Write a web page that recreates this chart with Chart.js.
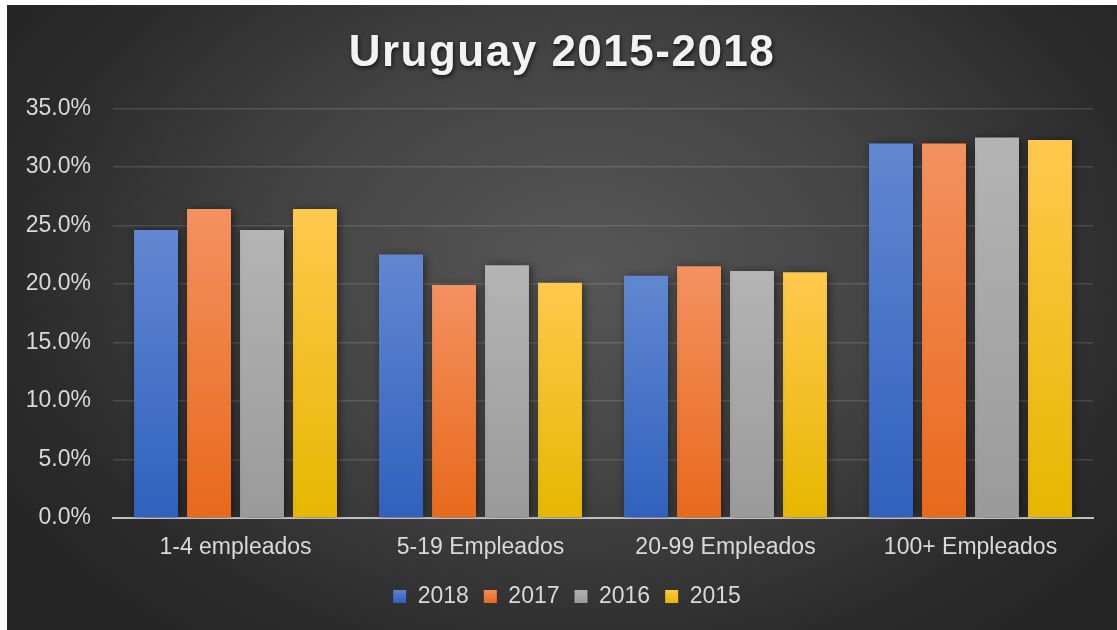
<!DOCTYPE html>
<html><head><meta charset="utf-8">
<script src="https://cdn.jsdelivr.net/npm/chart.js@4.4.1/dist/chart.umd.min.js"></script>
<style>
html,body{margin:0;padding:0;background:#fff;width:1117px;height:630px;overflow:hidden;}
#box{position:absolute;left:7px;top:5px;width:1110px;height:625px;
background:radial-gradient(ellipse 60% 75% at 52% 42%, #575757 0%, #444 45%, #2b2b2b 85%, #262626 100%);}
canvas{display:block;}
</style></head><body>
<div id="box"><canvas id="c" width="1110" height="625"></canvas></div>
<script>
const categories = ["1-4 empleados", "5-19 Empleados", "20-99 Empleados", "100+ Empleados"];
const seriesNames = ["2018", "2017", "2016", "2015"];
const v2018 = [24.6, 22.5, 20.7, 32.0];
const v2017 = [26.4, 19.9, 21.5, 32.0];
const v2016 = [24.6, 21.6, 21.1, 32.5];
const v2015 = [26.4, 20.1, 21.0, 32.3];
const yTicks = [0, 5, 10, 15, 20, 25, 30, 35];

const palette = [
  ["#6287d1", "#2f61bd"],
  ["#f49160", "#e8691b"],
  ["#b4b4b4", "#9a9a9a"],
  ["#ffc94d", "#e6b700"]
];
const FONT = "'Liberation Sans', Arial, sans-serif";
const TEXT = '#d9d9d9';

function barFill(i) {
  return function(ctx) {
    const chart = ctx.chart;
    if (!chart.chartArea || ctx.raw === undefined) return palette[i][0];
    const ys = chart.scales.y;
    const top = ys.getPixelForValue(ctx.raw);
    const bot = ys.getPixelForValue(0);
    const g = chart.ctx.createLinearGradient(0, top, 0, bot);
    g.addColorStop(0, palette[i][0]);
    g.addColorStop(1, palette[i][1]);
    return g;
  };
}

const shadowPlugin = {
  id: 'barShadow',
  beforeDatasetsDraw(chart) {
    const c = chart.ctx; c.save();
    c.shadowColor = 'rgba(0,0,0,0.55)'; c.shadowBlur = 9; c.shadowOffsetX = 2; c.shadowOffsetY = 1;
  },
  afterDatasetsDraw(chart) { chart.ctx.restore(); }
};

const allVals = [v2018, v2017, v2016, v2015];
const chart = new Chart(document.getElementById('c'), {
  type: 'bar',
  data: {
    labels: categories,
    datasets: seriesNames.map((n, i) => ({
      label: n,
      data: allVals[i],
      backgroundColor: barFill(i),
      borderWidth: 0,
      barPercentage: 0.83,
      categoryPercentage: 0.865
    }))
  },
  plugins: [shadowPlugin],
  options: {
    responsive: false,
    animation: false,
    layout: { padding: { left: 0, right: 24, top: 0, bottom: 12 } },
    plugins: {
      title: {
        display: true,
        text: 'Uruguay 2015-2018',
        color: '#f2f2f2',
        font: { family: FONT, size: 44, weight: 'bold' },
        padding: { top: 22, bottom: 28.5 }
      },
      legend: {
        position: 'bottom',
        labels: {
          color: TEXT,
          font: { family: FONT, size: 23 },
          boxWidth: 13, boxHeight: 13,
          padding: 15,
          generateLabels(chart) {
            return seriesNames.map((n, i) => ({
              text: n, fontColor: TEXT, fillStyle: (function(){
                const g = chart.ctx.createLinearGradient(0, 583, 0, 598);
                g.addColorStop(0, palette[i][0]); g.addColorStop(1, palette[i][1]); return g;})(),
              strokeStyle: 'rgba(0,0,0,0)', lineWidth: 0, hidden: false, datasetIndex: i
            }));
          }
        }
      },
      tooltip: { enabled: false }
    },
    scales: {
      x: {
        grid: { display: false, drawTicks: false },
        border: { color: '#bfbfbf', width: 2 },
        ticks: { color: TEXT, font: { family: FONT, size: 23 }, padding: 16 },
        afterFit(s) { s.height = 52; }
      },
      y: {
        min: 0, max: 35,
        afterBuildTicks(s) { s.ticks = yTicks.map(v => ({ value: v })); },
        grid: {
          drawTicks: false,
          color: (c) => c.tick && c.tick.value === 0 ? 'rgba(0,0,0,0)' : 'rgba(255,255,255,0.13)',
          lineWidth: 1.5
        },
        border: { display: false },
        ticks: {
          color: TEXT, font: { family: FONT, size: 23 }, padding: 22,
          callback: (v) => Number(v).toFixed(1) + '%'
        },
        afterFit(s) { s.width = 106; }
      }
    }
  }
});

const tb = chart.titleBlock;
const origTitle = tb.draw.bind(tb);
tb.draw = function() {
  const c = chart.ctx;
  c.save();
  c.translate(12, 0);
  c.letterSpacing = '1.5px';
  c.shadowColor = 'rgba(0,0,0,0.7)';
  c.shadowBlur = 4; c.shadowOffsetX = 1; c.shadowOffsetY = 2;
  origTitle();
  c.restore();
};
const lg = chart.legend;
const origLegend = lg.draw.bind(lg);
lg.draw = function() {
  const c = chart.ctx;
  c.save();
  c.translate(17, 0);
  origLegend();
  c.restore();
};
chart.update('none');
</script>
</body></html>
